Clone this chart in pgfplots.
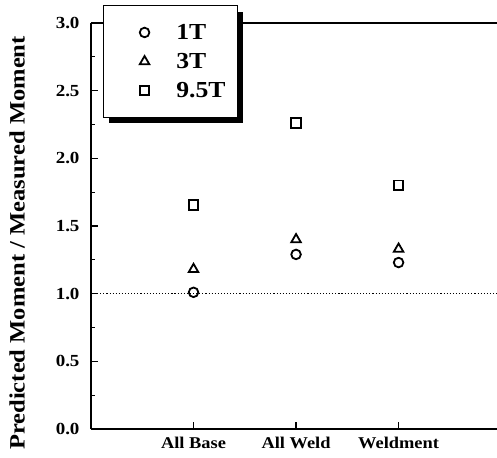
\documentclass[border=0pt]{standalone}
\usepackage{fontspec}
\setmainfont{Liberation Serif}[FakeStretch=1.12]
\usepackage{pgfplots}
\pgfplotsset{compat=1.18}
\usetikzlibrary{shadows}

\begin{document}
\begin{tikzpicture}
\begin{axis}[
    scale only axis,
    width=406bp, height=406bp,
    xmin=0, xmax=3.96,
    ymin=0, ymax=3,
    axis x line*=bottom,
    axis y line*=left,
    axis line style={line width=1.5bp, black},
    xtick={1,2,3},
    xticklabels={All Base, All Weld, Weldment},
    ytick={0,0.5,...,3},
    minor y tick num=1,
    tick align=inside,
    major tick length=7bp,
    minor tick length=4bp,
    tick style={line width=1.3bp, black},
    /pgf/number format/assume math mode=true,
    yticklabel style={font=\bfseries\fontsize{17}{17}\selectfont, xshift=-8bp,
        /pgf/number format/fixed, /pgf/number format/fixed zerofill,
        /pgf/number format/precision=1},
    xticklabel style={font=\bfseries\fontsize{16.5}{16.5}\selectfont, yshift=-5bp},
    ylabel={Predicted Moment / Measured Moment},
    ylabel style={font=\bfseries\fontsize{22}{22}\selectfont,
        at={(axis description cs:-0.182,0.458)}, anchor=center},
    legend style={
        at={(axis description cs:0.0296,1.0443)}, anchor=north west,
        draw=black, line width=1.3bp, fill=white,
        drop shadow={shadow xshift=5bp, shadow yshift=-6bp, fill=black, opacity=1},
        font=\bfseries\fontsize{23}{23}\selectfont,
        inner xsep=10.3bp, inner ysep=13.5bp, row sep=2.4bp,
        nodes={draw=none, inner ysep=5bp}
    },
    legend cell align=left,
    legend image code/.code={
        \path (0bp,0bp) (58.5bp,0bp);
        \draw[#1] plot coordinates {(29.7bp,0bp)};
    },
]
\addplot[black, dotted, line width=1.1bp, forget plot] coordinates {(0,1) (3.96,1)};
\draw[line width=1.5bp] (rel axis cs:0,1) -- (rel axis cs:1,1);

\addplot[black, only marks, mark=o, mark size=4.8bp, line width=1.8bp]
    coordinates {(1,1.01) (2,1.29) (3,1.23)};
\addplot[black, only marks, mark=triangle, mark size=5.5bp, line width=1.8bp]
    coordinates {(1,1.18) (2,1.40) (3,1.33)};
\addplot[black, only marks, mark=square, mark size=4.8bp, line width=1.8bp]
    coordinates {(1,1.655) (2,2.26) (3,1.80)};
\legend{1T, 3T, 9.5T}
\end{axis}
\pgfresetboundingbox
\path (-91bp,-29bp) rectangle (406bp,429bp);
\end{tikzpicture}
\end{document}
